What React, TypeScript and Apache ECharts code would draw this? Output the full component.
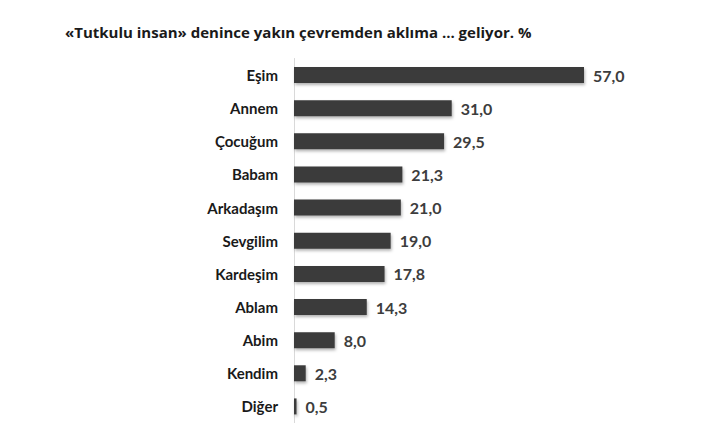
import { useEffect, useRef } from 'react'
import * as echarts from 'echarts'

const titleText = '«Tutkulu insan» denince yakın çevremden aklıma ... geliyor. %'

const categories = [
  'Eşim',
  'Annem',
  'Çocuğum',
  'Babam',
  'Arkadaşım',
  'Sevgilim',
  'Kardeşim',
  'Ablam',
  'Abim',
  'Kendim',
  'Diğer',
]

const values = [57.0, 31.0, 29.5, 21.3, 21.0, 19.0, 17.8, 14.3, 8.0, 2.3, 0.5]

const fontFamily = 'Lato, "Open Sans", sans-serif'

export default function App() {
  const chartRef = useRef<HTMLDivElement>(null)

  useEffect(() => {
    if (!chartRef.current) return

    const chart = echarts.init(chartRef.current, undefined, { renderer: 'svg' })

    const option = {
      animation: false,
      backgroundColor: '#ffffff',
      title: {
        text: titleText,
        left: 52,
        top: 11,
        textStyle: {
          fontFamily: '"Open Sans", sans-serif',
          fontSize: 15,
          fontWeight: 'bold',
          color: '#1a1a1a',
        },
      },
      grid: {
        left: 286,
        width: 290,
        top: 50.5,
        height: 369,
      },
      xAxis: {
        type: 'value',
        min: 0,
        max: 57,
        show: false,
      },
      yAxis: {
        type: 'category',
        data: categories,
        inverse: true,
        axisLine: { show: true, lineStyle: { color: '#d9d9d9', width: 1 } },
        axisTick: { show: false },
        axisLabel: {
          margin: 16,
          fontFamily,
          fontSize: 15,
          fontWeight: 'bold',
          color: '#1a1a1a',
        },
      },
      series: [
        {
          type: 'bar',
          data: values,
          barWidth: 16,
          itemStyle: {
            color: '#3a3a3a',
            shadowBlur: 3,
            shadowOffsetX: 1,
            shadowOffsetY: 2,
            shadowColor: 'rgba(0, 0, 0, 0.3)',
          },
          label: {
            show: true,
            position: 'right',
            distance: 9,
            fontFamily,
            fontSize: 16,
            fontWeight: 'bold',
            color: '#3d3d3d',
            formatter: (p: any) => p.value.toFixed(1).replace('.', ','),
          },
        },
      ],
    }

    chart.setOption(option)

    return () => {
      chart.dispose()
    }
  }, [])

  return <div ref={chartRef} style={{ width: 685, height: 415 }} />
}
